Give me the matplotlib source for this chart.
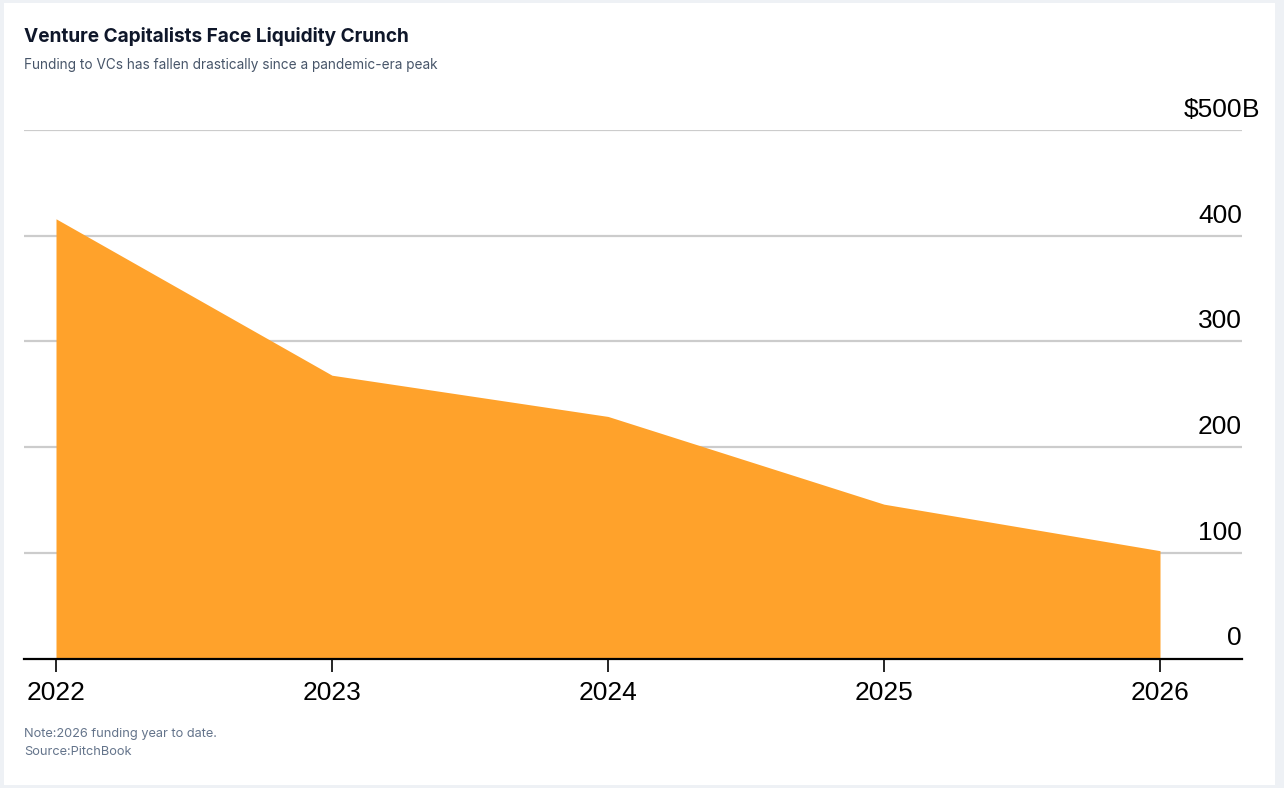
import matplotlib
matplotlib.use("Agg")
import matplotlib.pyplot as plt
from matplotlib.patches import Rectangle

years = [2022, 2023, 2024, 2025, 2026]
year_labels = ["2022", "2023", "2024", "2025", "2026"]
funding = [416, 268, 229, 146, 102]
y_ticks = [0, 100, 200, 300, 400, 500]
y_labels = ["0", "100", "200", "300", "400", "$500"]

title = "Venture Capitalists Face Liquidity Crunch"
subtitle = "Funding to VCs has fallen drastically since a pandemic-era peak"
note = "Note:2026 funding year to date."
source = "Source:PitchBook"

W, H = 1284, 788
fig = plt.figure(figsize=(W / 100, H / 100), dpi=100)
fig.patch.set_facecolor("#eef1f5")
fig.add_artist(Rectangle((4 / W, 3 / H), (1275 - 4) / W, (785 - 3) / H,
                         transform=fig.transFigure, facecolor="white",
                         edgecolor="none", zorder=0))

ax = fig.add_axes([24 / W, 1 - 658.5 / H, (1242 - 24) / W, (658.5 - 130) / H])
ax.set_facecolor("none")
x = list(range(len(years)))
ax.fill_between(x, 0, funding, color="#ffa22b", linewidth=0, zorder=2)
ax.set_xlim(-32 / 276, 4 + 82 / 276)
ax.set_ylim(0, 500)

for v in y_ticks[1:]:
    ax.axhline(v, color="#cccccc", linewidth=1.6, zorder=1)
fs = 19
for v, lab in zip(y_ticks, y_labels):
    ax.annotate(lab, xy=(1, v), xycoords=("axes fraction", "data"),
                xytext=(0, 9.5), textcoords="offset points",
                ha="right", va="baseline", fontsize=fs,
                family="Liberation Sans", color="black", zorder=3)
ax.annotate("B", xy=(1, 500), xycoords=("axes fraction", "data"),
            xytext=(0, 9.5), textcoords="offset points",
            ha="left", va="baseline", fontsize=fs,
            family="Liberation Sans", color="black", zorder=3)

for s in ["top", "right", "left"]:
    ax.spines[s].set_visible(False)
ax.spines["bottom"].set_linewidth(1.6)
ax.spines["bottom"].set_color("black")
ax.spines["bottom"].set_zorder(4)
ax.set_yticks([])
ax.set_xticks(x)
ax.set_xticklabels(year_labels, family="Liberation Sans", fontsize=fs)
ax.tick_params(axis="x", length=9.5, width=1.2, color="black", pad=7)

fig.text(24 / W, 1 - 36 / H, title, family="Inter", fontweight="bold",
         fontsize=13.7, color="#0f172a", va="center", ha="left")
fig.text(24 / W, 1 - 65 / H, subtitle, family="Inter", fontsize=9.8,
         color="#475569", va="center", ha="left")
fig.text(24 / W, 1 - 734 / H, note, family="Inter", fontsize=9.2,
         color="#64748b", va="center", ha="left")
fig.text(24 / W, 1 - 752 / H, source, family="Inter", fontsize=9.2,
         color="#64748b", va="center", ha="left")

fig.savefig("out.png", dpi=100, facecolor=fig.get_facecolor())
